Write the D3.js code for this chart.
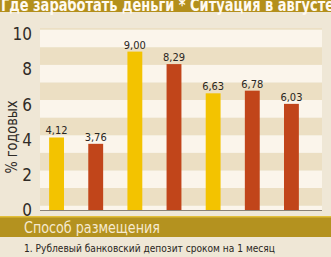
<!DOCTYPE html>
<html>
<head>
<meta charset="utf-8">
<script src="https://cdn.jsdelivr.net/npm/d3@7"></script>
<style>
  html, body { margin: 0; padding: 0; background: #efe7d6; }
  svg { display: block; }
</style>
</head>
<body>
<div id="chart"></div>
<script>
"use strict";

// values, % per annum (August)
var categories = ["1", "2", "3", "4", "5", "6", "7"];
var values = [4.12, 3.76, 9.00, 8.29, 6.63, 6.78, 6.03];
var kinds = ["y", "r", "y", "r", "y", "r", "r"];
var yTicks = [0, 2, 4, 6, 8, 10];

var title = "Где заработать деньги * Ситуация в августе";
var yLabel = "% годовых";
var sectionTitle = "Способ размещения";
var note = "1. Рублевый банковский депозит сроком на 1 месяц";

var width = 331, height = 257;
var condensed = "'Liberation Sans Narrow', 'DejaVu Sans Condensed', 'Roboto Condensed', Arial, sans-serif";

var svg = d3.select("#chart").append("svg")
    .attr("width", width)
    .attr("height", height);

svg.append("rect")
    .attr("width", width).attr("height", height)
    .attr("fill", "#efe7d6");

var x = d3.scaleBand()
    .domain(categories)
    .range([37, 311])
    .paddingInner(0.62)
    .paddingOuter(0.31);

var y = d3.scaleLinear()
    .domain([0, 10])
    .range([210, 34]);

// striped background of the plot
var plotLeft = 40, plotRight = 322, plotTop = 28;
var stripes = d3.range(-1, 11);
svg.append("g")
  .selectAll("rect")
    .data(stripes)
  .enter().append("rect")
    .attr("x", plotLeft)
    .attr("width", plotRight - plotLeft)
    .attr("y", function(k) { return Math.max(plotTop, y(k + 1.25)); })
    .attr("height", function(k) {
      var top = Math.max(plotTop, y(k + 1.25)), bot = Math.min(y(0), y(Math.max(0, k + 0.25)));
      return Math.max(0, bot - top);
    })
    .attr("fill", function(k) { return (k % 2 !== 0) ? "#fbf5eb" : "#ecdfc3"; });

// header band
svg.append("rect")
    .attr("x", 0).attr("y", 0)
    .attr("width", width).attr("height", 12)
    .attr("fill", "#b38f1c");

svg.append("text")
    .attr("x", 1).attr("y", 11)
    .attr("textLength", 333)
    .attr("lengthAdjust", "spacingAndGlyphs")
    .style("font", "bold 18px " + condensed)
    .attr("fill", "#fffaf0")
    .text(title);

// y axis labels
svg.append("g")
  .selectAll("text")
    .data(yTicks)
  .enter().append("text")
    .attr("x", 32)
    .attr("y", function(d) { return y(d); })
    .attr("dy", "0.36em")
    .attr("text-anchor", "end")
    .style("font", "17px " + condensed)
    .attr("fill", "#2f2b26")
    .text(function(d) { return d; });

svg.append("text")
    .attr("transform", "translate(17,137) rotate(-90)")
    .attr("text-anchor", "middle")
    .attr("textLength", 73)
    .attr("lengthAdjust", "spacingAndGlyphs")
    .style("font", "15px " + condensed)
    .attr("fill", "#2f2b26")
    .text(yLabel);

// bars
var colors = { y: "#f3c300", r: "#c1451a" };
svg.append("g")
  .selectAll("rect")
    .data(values)
  .enter().append("rect")
    .attr("x", function(d, i) { return x(categories[i]); })
    .attr("width", x.bandwidth())
    .attr("y", function(d) { return y(d); })
    .attr("height", function(d) { return y(0) - y(d); })
    .attr("fill", function(d, i) { return colors[kinds[i]]; });

var fmt = function(d) { return d3.format(".2f")(d).replace(".", ","); };
svg.append("g")
  .selectAll("text")
    .data(values)
  .enter().append("text")
    .attr("x", function(d, i) { return x(categories[i]) + x.bandwidth() / 2; })
    .attr("y", function(d) { return y(d) - 3; })
    .attr("text-anchor", "middle")
    .style("font", "11px " + condensed)
    .attr("fill", "#2a2622")
    .text(fmt);

// baseline
svg.append("line")
    .attr("x1", plotLeft).attr("x2", plotRight)
    .attr("y1", y(0) + 0.5).attr("y2", y(0) + 0.5)
    .attr("stroke", "#8a8275")
    .attr("stroke-width", 1);

// bottom band
svg.append("rect")
    .attr("x", 0).attr("y", 217)
    .attr("width", width).attr("height", 20)
    .attr("fill", "#b4921f");
svg.append("rect")
    .attr("x", 0).attr("y", 216)
    .attr("width", width).attr("height", 1.5)
    .attr("fill", "#e2bf3a");

svg.append("text")
    .attr("x", 24).attr("y", 233)
    .attr("textLength", 136)
    .attr("lengthAdjust", "spacingAndGlyphs")
    .style("font", "16px " + condensed)
    .attr("fill", "#f6ead0")
    .text(sectionTitle);

svg.append("text")
    .attr("x", 24).attr("y", 252)
    .attr("textLength", 251)
    .attr("lengthAdjust", "spacingAndGlyphs")
    .style("font", "11px " + condensed)
    .attr("fill", "#2a2622")
    .text(note);
</script>
</body>
</html>
